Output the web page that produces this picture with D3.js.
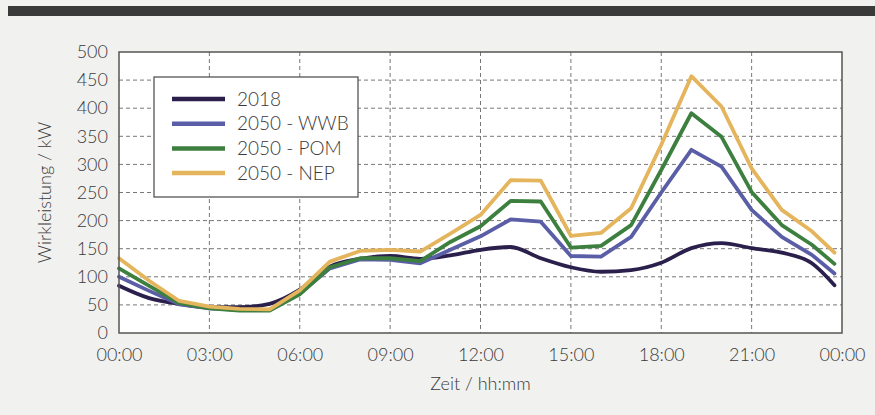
<!DOCTYPE html>
<html>
<head>
<meta charset="utf-8">
<script src="https://cdn.jsdelivr.net/npm/d3@7"></script>
<style>
  body { margin: 0; background: #f1f1ef; }
  svg { display: block; font-family: Lato, "Open Sans", sans-serif; font-weight: 300; }
</style>
</head>
<body>
<div id="chart"></div>
<script>
// Stunden (letzter Punkt 23:45)
const hours = [0, 1, 2, 3, 4, 5, 6, 7, 8, 9, 10, 11, 12, 13, 14, 15, 16, 17, 18, 19, 20, 21, 22, 23, 23.75];

const load2018 = [84, 62, 52, 46, 46, 52, 77, 118, 132, 137, 132, 138, 148, 153, 133, 117, 109, 112, 125, 151, 160, 151, 143, 124, 85];
const loadWWB  = [100, 75, 51, 44, 41, 41, 70, 115, 131, 130, 124, 148, 172, 202, 198, 137, 136, 171, 250, 326, 296, 219, 171, 139, 106];
const loadPOM  = [115, 84, 53, 44, 40, 40, 69, 117, 133, 133, 128, 162, 190, 235, 234, 152, 155, 192, 290, 391, 349, 251, 192, 157, 123];
const loadNEP  = [133, 93, 57, 47, 43, 42, 76, 127, 146, 148, 145, 177, 210, 272, 271, 173, 178, 222, 335, 457, 403, 293, 219, 181, 143];

const seriesNames = ['2018', '2050 - WWB', '2050 - POM', '2050 - NEP'];
const seriesColors = ['#2b1f4c', '#5a5ea6', '#3d7f3f', '#e4b55c'];

const xTicks = [0, 3, 6, 9, 12, 15, 18, 21, 24];
const xTickLabels = ['00:00', '03:00', '06:00', '09:00', '12:00', '15:00', '18:00', '21:00', '00:00'];
const yTicks = [0, 50, 100, 150, 200, 250, 300, 350, 400, 450, 500];

const width = 875, height = 415;
const margin = { top: 52, right: 33, bottom: 82, left: 119 };
const innerW = width - margin.left - margin.right,
    innerH = height - margin.top - margin.bottom;

const series = [load2018, loadWWB, loadPOM, loadNEP].map((vals, i) => ({
    name: seriesNames[i],
    color: seriesColors[i],
    values: hours.map((h, j) => ({ h: h, v: vals[j] }))
}));

const svg = d3.select('#chart')
    .append('svg')
    .attr('width', width)
    .attr('height', height);

// dunkler Balken oben
svg.append('rect')
    .attr('x', 8)
    .attr('y', 6)
    .attr('width', width - 8)
    .attr('height', 10)
    .attr('fill', '#3a3a3a');

const g = svg.append('g')
    .attr('transform', `translate(${margin.left},${margin.top})`);

const x = d3.scaleLinear().domain([0, 24]).range([0, innerW]);
const y = d3.scaleLinear().domain([0, 500]).range([innerH, 0]);

g.append('rect')
    .attr('width', innerW)
    .attr('height', innerH)
    .attr('fill', '#fff');

// Gitter
g.append('g')
    .selectAll('line')
    .data(yTicks.slice(1, -1))
    .join('line')
    .attr('x1', 0)
    .attr('x2', innerW)
    .attr('y1', d => y(d))
    .attr('y2', d => y(d))
    .attr('stroke', '#777')
    .attr('stroke-width', 1)
    .attr('stroke-dasharray', '4,3');

g.append('g')
    .selectAll('line')
    .data(xTicks.slice(1, -1))
    .join('line')
    .attr('x1', d => x(d))
    .attr('x2', d => x(d))
    .attr('y1', 0)
    .attr('y2', innerH)
    .attr('stroke', '#777')
    .attr('stroke-width', 1)
    .attr('stroke-dasharray', '4,3');

// Achsen
const xAxis = g.append('g')
    .attr('transform', `translate(0,${innerH})`)
    .call(d3.axisBottom(x).tickValues(xTicks).tickSize(0).tickPadding(15)
        .tickFormat((d, i) => xTickLabels[i]));
xAxis.select('.domain').remove();

const yAxis = g.append('g')
    .call(d3.axisLeft(y).tickValues(yTicks).tickSize(0).tickPadding(11));
yAxis.select('.domain').remove();

g.selectAll('.tick text')
    .attr('fill', '#3a3a3a')
    .style('font-size', '18px')
    .style('font-family', 'Lato, "Open Sans", sans-serif')
    .style('font-weight', 300);

// Linien
const line = d3.line()
    .x(d => x(d.h))
    .y(d => y(d.v));

const smooth = d3.line()
    .curve(d3.curveMonotoneX)
    .x(d => x(d.h))
    .y(d => y(d.v));

g.append('g')
    .selectAll('path')
    .data(series)
    .join('path')
    .attr('fill', 'none')
    .attr('stroke', d => d.color)
    .attr('stroke-width', 3.8)
    .attr('stroke-linejoin', 'round')
    .attr('stroke-linecap', 'round')
    .attr('d', (d, i) => i === 0 ? smooth(d.values) : line(d.values));

// Rahmen
g.append('rect')
    .attr('width', innerW)
    .attr('height', innerH)
    .attr('fill', 'none')
    .attr('stroke', '#555')
    .attr('stroke-width', 1.5);

// Legende
const legend = g.append('g')
    .attr('transform', `translate(${154 - margin.left},${77 - margin.top})`);

legend.append('rect')
    .attr('width', 204)
    .attr('height', 120)
    .attr('fill', '#fff')
    .attr('stroke', '#555')
    .attr('stroke-width', 1.3);

const item = legend.selectAll('g.item')
    .data(series)
    .join('g')
    .attr('class', 'item')
    .attr('transform', (d, i) => `translate(0,${22 + i * 24.7})`);

item.append('line')
    .attr('x1', 18)
    .attr('x2', 71)
    .attr('stroke', d => d.color)
    .attr('stroke-width', 4.5);

item.append('text')
    .attr('x', 83)
    .attr('dy', '0.35em')
    .attr('fill', '#3a3a3a')
    .style('font-size', '19px')
    .text(d => d.name);

// Achsentitel
svg.append('text')
    .attr('x', margin.left + innerW / 2)
    .attr('y', 390)
    .attr('text-anchor', 'middle')
    .attr('fill', '#3a3a3a')
    .style('font-size', '18px')
    .text('Zeit / hh:mm');

svg.append('text')
    .attr('transform', `translate(51,${margin.top + innerH / 2}) rotate(-90)`)
    .attr('text-anchor', 'middle')
    .attr('fill', '#3a3a3a')
    .style('font-size', '18px')
    .text('Wirkleistung / kW');
</script>
</body>
</html>
